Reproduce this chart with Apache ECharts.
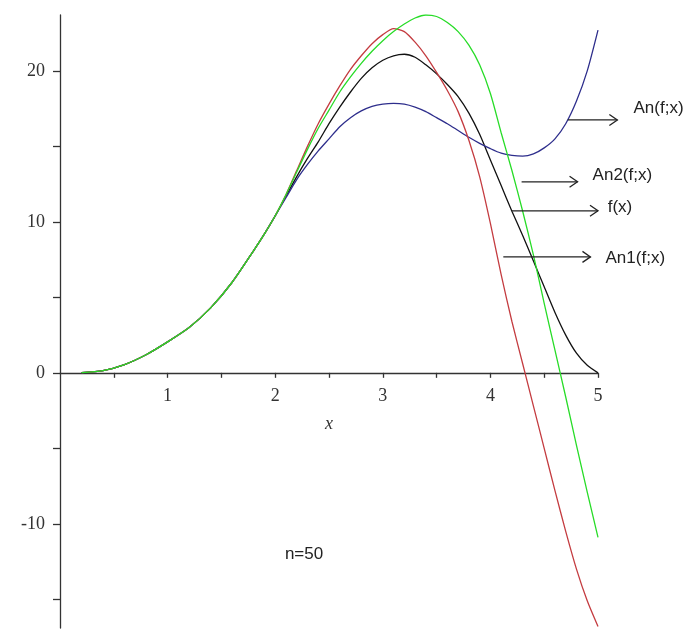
<!DOCTYPE html>
<html>
<head>
<meta charset="utf-8">
<script src="https://cdn.jsdelivr.net/npm/echarts@6/dist/echarts.min.js"></script>
<style>
html,body{margin:0;padding:0;background:#fff;}
#chart{width:689px;height:634px;}
</style>
</head>
<body>
<div id="chart"></div>
<script>
// ---- data ----
var xs = [0.2,0.4,0.6,0.8,1.0,1.2,1.4,1.6,1.8,1.9,2.0,2.1,2.2,2.3,2.4,2.5,2.6,2.7,2.8,2.9,3.0,3.1,3.2,3.3,3.4,3.5,3.6,3.7,3.8,3.9,4.0,4.1,4.2,4.3,4.4,4.5,4.6,4.7,4.8,4.9,5.0];
var fVals   = [0.02,0.15,0.55,1.2,2.05,3.0,4.3,6.0,8.1,9.2,10.4,11.7,13.0,14.2,15.3,16.5,17.6,18.6,19.5,20.2,20.7,21.0,21.1,20.9,20.4,19.8,19.1,18.3,17.2,15.8,14.1,12.4,10.7,9.1,7.4,5.7,4.0,2.5,1.3,0.5,0];
var anVals  = [0.02,0.15,0.55,1.2,2.05,3.0,4.3,6.0,8.1,9.2,10.4,11.6,12.8,13.8,14.7,15.5,16.3,16.9,17.35,17.65,17.8,17.85,17.8,17.6,17.3,16.9,16.5,16.05,15.6,15.2,14.85,14.55,14.4,14.35,14.5,14.9,15.5,16.5,18.0,20.0,22.7];
var an1Vals = [0.02,0.15,0.55,1.2,2.05,3.0,4.3,6.0,8.1,9.2,10.4,11.8,13.4,15.0,16.5,17.8,19.0,20.1,21.0,21.8,22.4,22.8,22.6,21.9,21.0,19.9,18.7,17.3,15.4,13.0,9.9,6.5,3.4,0.6,-2.2,-5.0,-7.8,-10.5,-13.0,-15.1,-16.8];
var an2Vals = [0.02,0.15,0.55,1.2,2.05,3.0,4.3,6.0,8.1,9.2,10.4,11.8,13.3,14.8,16.2,17.4,18.6,19.6,20.5,21.3,22.0,22.6,23.1,23.5,23.7,23.6,23.2,22.6,21.7,20.4,18.5,15.9,13.4,10.7,7.8,4.6,1.5,-1.6,-4.8,-7.9,-10.9];
var xTickValues = [0.5,1,1.5,2,2.5,3,3.5,4,4.5,5];
var xLabelValues = [1,2,3,4,5];
var yTickValues = [-15,-10,-5,0,5,10,15,20];
var yLabelValues = [-10,0,10,20];
// annotations: [label, arrowStartX, arrowEndX, arrowY, textX, textY]
var annotations = [
  ['An(f;x)',  4.72, 5.18, 16.75, 5.33, 17.5],
  ['An2(f;x)', 4.29, 4.81, 12.65, 4.95, 13.1],
  ['f(x)',     4.20, 5.00, 10.73, 5.09, 10.93],
  ['An1(f;x)', 4.12, 4.93, 7.68,  5.07, 7.6]
];
var noteText = ['n=50', 2.09, -12.05];

function pairs(v){ return xs.map(function(x,i){ return [x, v[i]]; }); }

var chart = echarts.init(document.getElementById('chart'));
var serif = 'Liberation Serif';
var sans = 'Liberation Sans';
var axisCol = '#333';
var yMin = -16.9, yMax = 23.7;
function mkLine(name, vals, color){
  return {name:name, type:'line', data:pairs(vals), showSymbol:false, smooth:0.25,
    lineStyle:{color:color, width:1.3}, itemStyle:{color:color}, z:3, silent:true};
}
chart.setOption({
  animation:false,
  backgroundColor:'#fff',
  grid:{left:60, right:91, top:15, bottom:6, containLabel:false, outerBoundsMode:'none'},
  xAxis:[{type:'value', min:0, max:5,
    axisLine:{onZero:true, lineStyle:{color:axisCol, width:1.3}},
    axisTick:{show:true, length:5, customValues:xTickValues, lineStyle:{color:axisCol, width:1.3}},
    axisLabel:{show:false},
    splitLine:{show:false}},
   {type:'value', min:0, max:5, position:'bottom', offset:0,
    name:'x', nameLocation:'middle', nameGap:42,
    nameTextStyle:{fontFamily:serif, fontStyle:'italic', fontSize:18, color:axisCol},
    axisLine:{show:false, onZero:false},
    axisTick:{show:false},
    axisLabel:{customValues:xLabelValues, margin:14, fontFamily:serif, fontSize:18, color:axisCol},
    splitLine:{show:false}}],
  yAxis:{type:'value', min:yMin, max:yMax,
    axisLine:{show:true, onZero:false, lineStyle:{color:axisCol, width:1.3}},
    axisTick:{show:true, length:7, customValues:yTickValues, lineStyle:{color:axisCol, width:1.3}},
    axisLabel:{customValues:yLabelValues, margin:15, fontFamily:serif, fontSize:18, color:axisCol},
    splitLine:{show:false}},
  series:[
    mkLine('f(x)', fVals, '#111111'),
    mkLine('An(f;x)', anVals, '#2e2e8c'),
    mkLine('An1(f;x)', an1Vals, '#c43c40'),
    mkLine('An2(f;x)', an2Vals, '#27dc27')
  ]
});

// move the label axis up to the y = 0 line
var zeroPx = chart.convertToPixel({gridIndex:0}, [0, 0])[1];
var bottomPx = chart.convertToPixel({gridIndex:0}, [0, yMin])[1];
chart.setOption({xAxis:[{}, {offset: zeroPx - bottomPx}]});

var g = [];
annotations.forEach(function(a){
  var p0 = chart.convertToPixel({gridIndex:0}, [a[1], a[3]]);
  var p1 = chart.convertToPixel({gridIndex:0}, [a[2], a[3]]);
  var pt = chart.convertToPixel({gridIndex:0}, [a[4], a[5]]);
  g.push({type:'line', shape:{x1:p0[0], y1:p0[1], x2:p1[0], y2:p1[1]}, style:{stroke:'#222', lineWidth:1.3}, z:10});
  g.push({type:'polyline', shape:{points:[[p1[0]-8, p1[1]-5.5],[p1[0], p1[1]],[p1[0]-8, p1[1]+5.5]]}, style:{stroke:'#222', lineWidth:1.3, fill:null}, z:10});
  g.push({type:'text', x:pt[0], y:pt[1], style:{text:a[0], fontFamily:sans, fontSize:17, fill:'#222', verticalAlign:'middle', align:'left'}, z:10});
});
var pn = chart.convertToPixel({gridIndex:0}, [noteText[1], noteText[2]]);
g.push({type:'text', x:pn[0], y:pn[1], style:{text:noteText[0], fontFamily:sans, fontSize:17, fill:'#222', verticalAlign:'middle', align:'left'}, z:10});
chart.setOption({graphic:g});
</script>
</body>
</html>
